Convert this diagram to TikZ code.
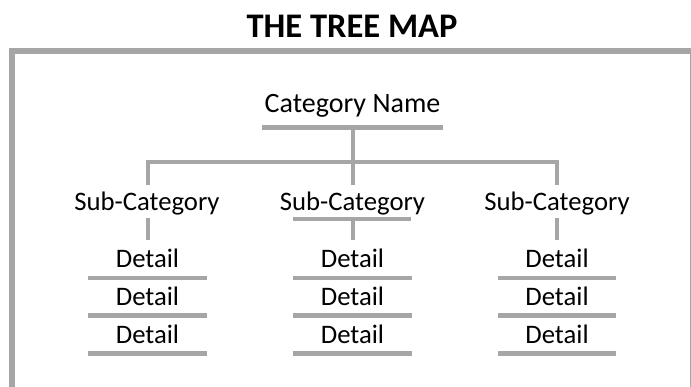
\documentclass[tikz,border=0pt]{standalone}
\usepackage{fontspec}
\setmainfont{Carlito}
\definecolor{barg}{HTML}{A6A6A6}
\begin{document}
\begin{tikzpicture}[x=1pt,y=-1pt,
  bar/.style={draw=barg, line width=4.8pt},
  framel/.style={draw=barg, line width=6pt, line join=miter},
  lbl/.style={font=\fontsize{26.7}{30}\selectfont, inner sep=0pt, anchor=base},
  catlbl/.style={font=\fontsize{28}{32}\selectfont, inner sep=0pt, anchor=base},
  ttl/.style={font=\fontsize{34.5}{40}\selectfont\bfseries, inner sep=0pt, anchor=base}]
\useasboundingbox (0,0) rectangle (691,387);
% frame
\coordinate (fb) at (11.5,387);
\coordinate (fc) at (11.5,51);
\coordinate (fr) at (691,51);
\draw[framel] (fb) -- (fc) -- (fr);
\coordinate (rt) at (690.5,54);
\coordinate (rb) at (690.5,387);
\draw[draw=barg, line width=1pt] (rt) -- (rb);
% title
\node[ttl] (title) at (352,37.5) {THE TREE MAP};
% category
\node[catlbl] (cat) at (352.5,112.5) {Category Name};
\coordinate (catL) at (262,127.5);
\coordinate (catR) at (443,127.5);
\coordinate (catM) at (353,127.5);
\draw[bar] (catL) -- (catR);
% junctions
\coordinate (jL) at (148,162);
\coordinate (jR) at (557,162);
\coordinate (s1t) at (148,185);
\coordinate (s2t) at (353,185);
\coordinate (s3t) at (557,185);
\draw[bar, line join=miter] (s1t) -- (jL) -- (jR) -- (s3t);
\draw[bar] (catM) -- (s2t);
% sub categories
\node[lbl] (sub1) at (147,210.5) {Sub-Category};
\node[lbl] (sub2) at (352.5,210.5) {Sub-Category};
\node[lbl] (sub3) at (557,210.5) {Sub-Category};
\coordinate (s2L) at (293,219);
\coordinate (s2R) at (411,219);
\draw[bar] (s2L) -- (s2R);
\coordinate (s1b) at (148,218);
\coordinate (s1d) at (148,240);
\coordinate (s2b) at (353,219);
\coordinate (s2d) at (353,240);
\coordinate (s3b) at (557,218);
\coordinate (s3d) at (557,240);
\draw[bar] (s1b) -- (s1d);
\draw[bar] (s2b) -- (s2d);
\draw[bar] (s3b) -- (s3d);
% details
\foreach \c/\x/\l/\r in {1/147.5/88/207, 2/352.5/293/412, 3/557/498/616}{
  \foreach \k/\yb/\yl in {1/267.5/278, 2/305.5/315.5, 3/343.5/353.5}{
    \node[lbl] (d\c\k) at (\x,\yb) {Detail};
    \coordinate (b\c\k L) at (\l,\yl);
    \coordinate (b\c\k R) at (\r,\yl);
    \draw[bar] (b\c\k L) -- (b\c\k R);
  }
}
\end{tikzpicture}
\end{document}
